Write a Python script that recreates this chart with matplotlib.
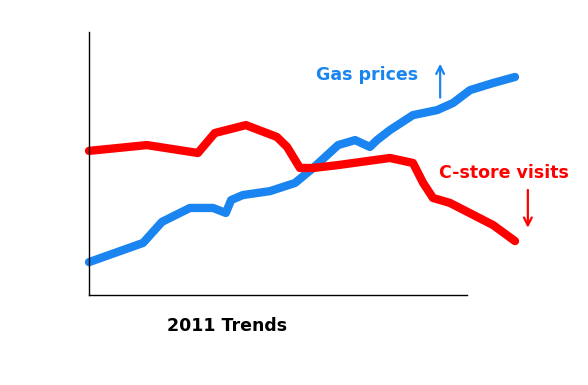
import matplotlib
matplotlib.use("Agg")
from matplotlib import pyplot as plt

# positions on a 0-100 scale (axis ends at 100, lines run past it)
gas_x = [0, 14.3, 19.3, 26.7, 32.8, 36.2, 37.6, 40.7, 47.9, 54.5, 59.3, 65.9,
         70.4, 74.3, 76.2, 79.6, 85.7, 92.1, 96.3, 100.8, 106.9, 112.7]
gas_y = [12.5, 19.8, 27.8, 33.1, 33.1, 31.2, 36.1, 38.0, 39.5, 42.6, 48.3, 57.0,
         58.9, 56.3, 58.9, 62.7, 68.4, 70.3, 73.0, 77.9, 80.6, 82.9]

store_x = [0, 15.3, 28.8, 33.3, 41.5, 49.7, 52.4, 55.8, 59.3, 65.9, 79.6, 85.7,
           88.4, 91.0, 95.5, 106.9, 112.7]
store_y = [54.8, 57.0, 54.0, 61.6, 64.6, 60.1, 56.3, 48.3, 48.3, 49.4, 52.1, 50.2,
           42.6, 36.9, 35.0, 26.6, 20.5]

blue = "#1a85f0"
red = "#ff0000"

fig = plt.figure(figsize=(5.88, 3.85), dpi=100)
ax = fig.add_axes([89/588, 90/385, 378/588, 263/385])

ax.plot(gas_x, gas_y, color=blue, lw=6, solid_capstyle="round",
        solid_joinstyle="round", clip_on=False)
ax.plot(store_x, store_y, color=red, lw=6, solid_capstyle="round",
        solid_joinstyle="round", clip_on=False)

ax.set_xlim(0, 100)
ax.set_ylim(0, 100)
ax.set_xticks([])
ax.set_yticks([])
for s in ["top", "right"]:
    ax.spines[s].set_visible(False)
for s in ["left", "bottom"]:
    ax.spines[s].set_linewidth(1)
    ax.spines[s].set_color("black")

ax.text(73.5, 83.7, "Gas prices", color=blue, fontsize=12.5, fontweight="bold",
        ha="center", va="center", clip_on=False)
ax.text(109.8, 46.4, "C-store visits", color=red, fontsize=12.5, fontweight="bold",
        ha="center", va="center", clip_on=False)
ax.text(36.5, -11.8, "2011 Trends", color="black", fontsize=12.5, fontweight="bold",
        ha="center", va="center", clip_on=False)

ax.annotate("", xy=(92.9, 89), xytext=(92.9, 74), annotation_clip=False,
            arrowprops=dict(arrowstyle="->", color=blue, lw=1.6, mutation_scale=14))
ax.annotate("", xy=(116.1, 24.5), xytext=(116.1, 41), annotation_clip=False,
            arrowprops=dict(arrowstyle="->", color=red, lw=1.6, mutation_scale=14))

fig.savefig("out.png", dpi=100)
